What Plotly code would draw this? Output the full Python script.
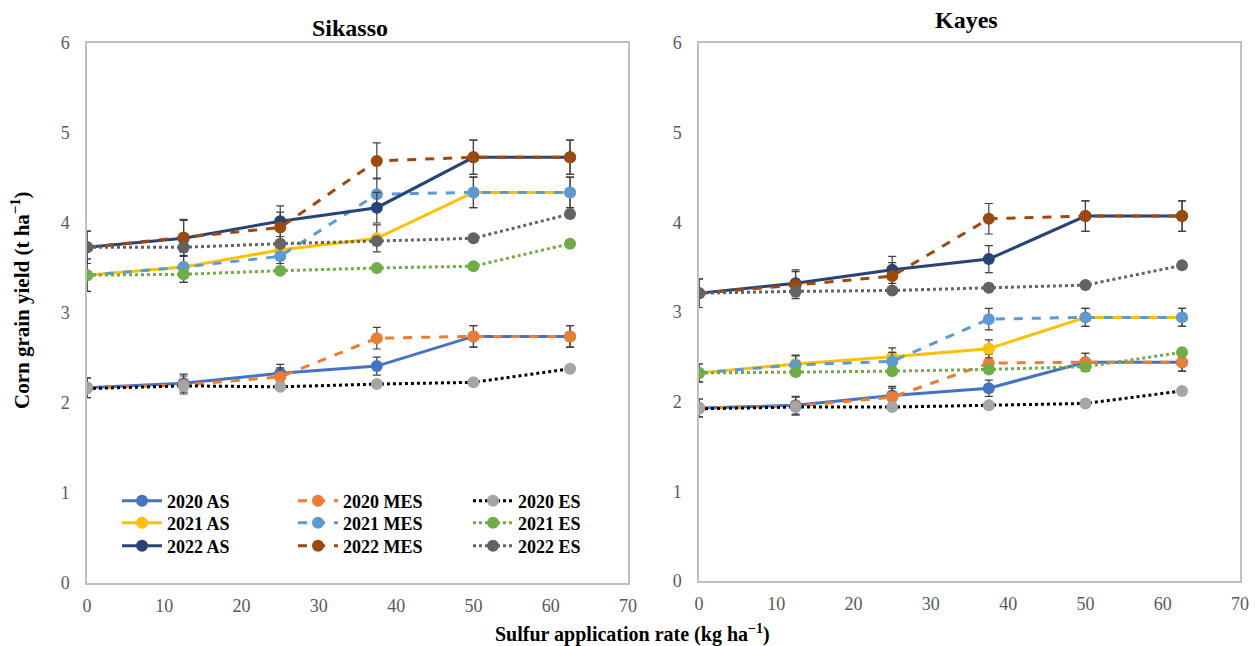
import plotly.graph_objects as go

rates = [0, 12.5, 25, 37.5, 50, 62.5]

names = ["2020 AS", "2020 MES", "2020 ES",
         "2021 AS", "2021 MES", "2021 ES",
         "2022 AS", "2022 MES", "2022 ES"]

# Sikasso yields (t/ha)
sik_2020_AS = [2.17, 2.22, 2.33, 2.41, 2.74, 2.74]
sik_2020_MES = [2.17, 2.20, 2.29, 2.72, 2.74, 2.74]
sik_2020_ES = [2.16, 2.19, 2.18, 2.21, 2.23, 2.38]
sik_2021_AS = [3.42, 3.51, 3.70, 3.83, 4.34, 4.34]
sik_2021_MES = [3.42, 3.51, 3.63, 4.32, 4.34, 4.34]
sik_2021_ES = [3.42, 3.43, 3.47, 3.50, 3.52, 3.77]
sik_2022_AS = [3.73, 3.83, 4.02, 4.17, 4.73, 4.73]
sik_2022_MES = [3.73, 3.84, 3.95, 4.69, 4.73, 4.73]
sik_2022_ES = [3.73, 3.73, 3.77, 3.80, 3.83, 4.10]

# Sikasso error bars
sik_err_2020_AS = [0.11, 0.10, 0.10, 0.10, 0.12, 0.12]
sik_err_2020_MES = [0.11, 0.10, 0.10, 0.12, 0.12, 0.12]
sik_err_2021_AS = [0.18, 0.17, 0.15, 0.15, 0.17, 0.17]
sik_err_2021_MES = [0.18, 0.17, 0.15, 0.18, 0.17, 0.17]
sik_err_2022_AS = [0.18, 0.20, 0.17, 0.17, 0.19, 0.19]
sik_err_2022_MES = [0.18, 0.20, 0.17, 0.20, 0.19, 0.19]

# Kayes yields (t/ha)
kay_2020_AS = [1.93, 1.96, 2.07, 2.15, 2.44, 2.44]
kay_2020_MES = [1.93, 1.95, 2.05, 2.43, 2.44, 2.44]
kay_2020_ES = [1.92, 1.94, 1.94, 1.96, 1.98, 2.12]
kay_2021_AS = [2.32, 2.42, 2.50, 2.59, 2.94, 2.94]
kay_2021_MES = [2.32, 2.41, 2.45, 2.92, 2.94, 2.94]
kay_2021_ES = [2.32, 2.33, 2.34, 2.36, 2.39, 2.55]
kay_2022_AS = [3.21, 3.32, 3.47, 3.59, 4.07, 4.07]
kay_2022_MES = [3.21, 3.30, 3.40, 4.04, 4.07, 4.07]
kay_2022_ES = [3.21, 3.23, 3.24, 3.27, 3.30, 3.52]

# Kayes error bars
kay_err_2020_AS = [0.10, 0.10, 0.10, 0.09, 0.10, 0.10]
kay_err_2020_MES = [0.10, 0.10, 0.10, 0.10, 0.10, 0.10]
kay_err_2021_AS = [0.10, 0.10, 0.10, 0.10, 0.10, 0.10]
kay_err_2021_MES = [0.10, 0.10, 0.10, 0.12, 0.10, 0.10]
kay_err_2022_AS = [0.16, 0.15, 0.15, 0.15, 0.17, 0.17]
kay_err_2022_MES = [0.16, 0.15, 0.15, 0.17, 0.17, 0.17]

sik = [sik_2020_AS, sik_2020_MES, sik_2020_ES, sik_2021_AS, sik_2021_MES,
       sik_2021_ES, sik_2022_AS, sik_2022_MES, sik_2022_ES]
sik_err = [sik_err_2020_AS, sik_err_2020_MES, None, sik_err_2021_AS,
           sik_err_2021_MES, None, sik_err_2022_AS, sik_err_2022_MES, None]
kay = [kay_2020_AS, kay_2020_MES, kay_2020_ES, kay_2021_AS, kay_2021_MES,
       kay_2021_ES, kay_2022_AS, kay_2022_MES, kay_2022_ES]
kay_err = [kay_err_2020_AS, kay_err_2020_MES, None, kay_err_2021_AS,
           kay_err_2021_MES, None, kay_err_2022_AS, kay_err_2022_MES, None]

line_colors = ["#4472C4", "#ED7D31", "#000000",
               "#FFC000", "#5B9BD5", "#70AD47",
               "#264478", "#9E480E", "#636363"]
marker_colors = ["#4472C4", "#ED7D31", "#A5A5A5",
                 "#FFC000", "#5B9BD5", "#70AD47",
                 "#264478", "#9E480E", "#636363"]
dashes = ["solid", "dash", "dot"] * 3
legend_ids = ["legend"] + ["legend%d" % k for k in range(2, 10)]

FONT = "Liberation Serif"

fig = go.Figure()

for panel, (data, errs, xa, ya) in enumerate([(sik, sik_err, "x", "y"),
                                              (kay, kay_err, "x2", "y2")]):
    for i in range(9):
        err = None
        if errs[i] is not None:
            err = dict(type="data", array=errs[i], visible=True,
                       color="#404040", thickness=1.2, width=4)
        fig.add_trace(go.Scatter(
            x=rates, y=data[i], name=names[i], mode="lines+markers",
            line=dict(color=line_colors[i], width=3, dash=dashes[i]),
            marker=dict(color=marker_colors[i], size=12),
            error_y=err, xaxis=xa, yaxis=ya, legend=legend_ids[i],
            showlegend=(panel == 0), legendgroup=names[i]))

axis_common = dict(range=[0, 70], dtick=10, showgrid=False, zeroline=False,
                   showline=True, mirror=True, linecolor="#BFBFBF",
                   linewidth=1.5, ticks="", automargin=False,
                   ticklabelstandoff=6,
                   tickfont=dict(family=FONT, size=18, color="#595959"))
yaxis_common = dict(range=[0, 6], dtick=1, showgrid=False, zeroline=False,
                    showline=True, mirror=True, linecolor="#BFBFBF",
                    linewidth=1.5, ticks="", automargin=False,
                    ticklabelstandoff=12,
                    tickfont=dict(family=FONT, size=18, color="#595959"))

W, H = 1255, 646
leg_font = dict(family=FONT, size=18, color="#000000", weight="bold")

col_x = [117, 293, 468]
row_y = [501, 523, 546]

legends = {}
for i in range(9):
    r, c = divmod(i, 3)
    legends[legend_ids[i]] = dict(
        orientation="v", x=col_x[c] / W, y=1 - row_y[r] / H,
        xanchor="left", yanchor="middle", bgcolor="rgba(0,0,0,0)",
        itemwidth=40, font=leg_font)

fig.update_layout(
    width=W, height=H,
    margin=dict(l=0, r=0, t=0, b=0, autoexpand=False),
    paper_bgcolor="white", plot_bgcolor="white",
    xaxis=dict(domain=[87 / W, 628 / W], anchor="y", **axis_common),
    yaxis=dict(domain=[1 - 583 / H, 1 - 43 / H], anchor="x", **yaxis_common),
    xaxis2=dict(domain=[699 / W, 1240 / W], anchor="y2", **axis_common),
    yaxis2=dict(domain=[1 - 581 / H, 1 - 43 / H], anchor="x2", **yaxis_common),
    annotations=[
        dict(text="<b>Sikasso</b>", x=350 / W, y=1 - 28 / H, xref="paper",
             yref="paper", showarrow=False, xanchor="center",
             yanchor="middle",
             font=dict(family=FONT, size=24, color="#000000")),
        dict(text="<b>Kayes</b>", x=966 / W, y=1 - 20 / H, xref="paper",
             yref="paper", showarrow=False, xanchor="center",
             yanchor="middle",
             font=dict(family=FONT, size=24, color="#000000")),
        dict(text="<b>Corn grain yield (t ha<sup>−1</sup>)</b>", x=20 / W,
             y=1 - 300 / H, xref="paper", yref="paper", showarrow=False,
             textangle=-90, xanchor="center", yanchor="middle",
             font=dict(family=FONT, size=21, color="#000000")),
        dict(text="<b>Sulfur application rate (kg ha<sup>−1</sup>)</b>",
             x=632 / W, y=1 - 633 / H, xref="paper", yref="paper",
             showarrow=False, xanchor="center", yanchor="middle",
             font=dict(family=FONT, size=20, color="#000000")),
    ],
    **legends,
)

fig.write_html("out.html", config={"displayModeBar": False},
               post_script="document.body.style.margin='0';"
                           "document.body.style.padding='0';")
